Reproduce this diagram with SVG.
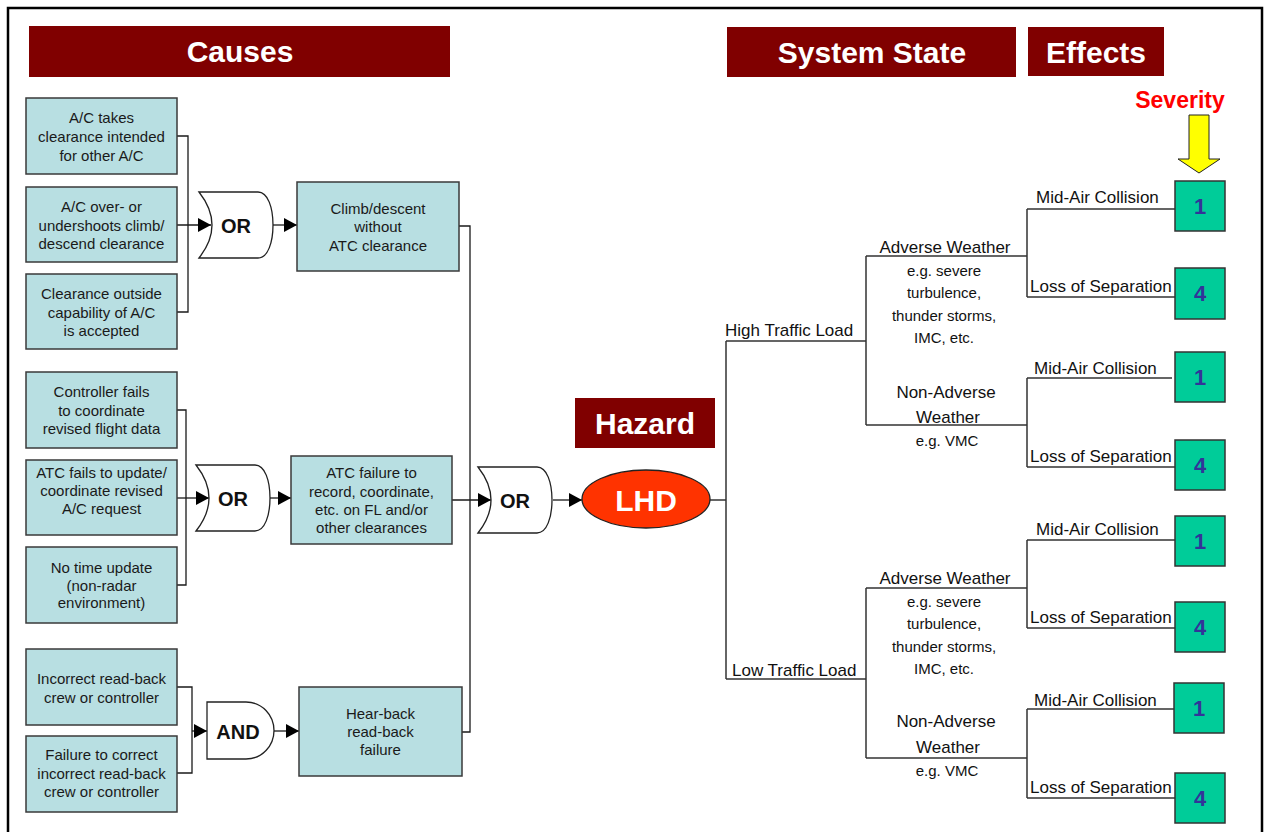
<svg xmlns="http://www.w3.org/2000/svg" width="1265" height="832" viewBox="0 0 1265 832">
<style>
text{font-family:"Liberation Sans",Arial,Helvetica,sans-serif}
.frame{fill:#fff;stroke:#000;stroke-width:2.5}
.title{fill:#800000}
.tt{font-size:30px;font-weight:bold;fill:#fff;text-anchor:middle}
.box{fill:#B8DFE2;stroke:#3a3a3a;stroke-width:1.5}
.bt{font-size:15px;fill:#1a1a1a;text-anchor:middle}
.gate{fill:#fff;stroke:#222;stroke-width:1.3}
.gt{font-size:20px;font-weight:bold;fill:#111;text-anchor:middle}
.ln{stroke:#1a1a1a;stroke-width:1.3;fill:none}
.tl{stroke:#333;stroke-width:1.5;fill:none}
.lbl{font-size:17px;fill:#111}
.eg{font-size:15px;fill:#111;text-anchor:middle}
.sev{fill:#00CC99;stroke:#333;stroke-width:1.5}
.sn{font-size:22px;font-weight:bold;fill:#333399;text-anchor:middle}
</style>
<defs>
<marker id="ah" markerUnits="userSpaceOnUse" markerWidth="14" markerHeight="14" refX="13" refY="7" orient="auto">
<path d="M0,0 L13,7 L0,14 Z" fill="#000"/>
</marker>
<path id="orgate" d="M0,0 L59,0 C69,0 74,16 74,33 C74,50 69,66 59,66 L0,66 Q26,33 0,0 Z"/>
</defs>
<rect class="frame" x="8" y="8" width="1254" height="840"/>

<g id="title-causes"><rect class="title" x="29" y="26" width="421" height="51"/><text class="tt" x="240" y="62">Causes</text></g>
<g id="title-system-state"><rect class="title" x="727" y="27" width="289" height="50"/><text class="tt" x="872" y="63">System State</text></g>
<g id="title-effects"><rect class="title" x="1028" y="27" width="136" height="49"/><text class="tt" x="1096" y="63">Effects</text></g>
<g id="title-hazard"><rect class="title" x="575" y="398" width="140" height="50"/><text class="tt" x="645" y="434">Hazard</text></g>

<g id="connectors">
<path class="ln" d="M177,136 H188 V312 H177"/>
<path class="ln" d="M177,225 H211" marker-end="url(#ah)"/>
<path class="ln" d="M273,225 H297" marker-end="url(#ah)"/>
<path class="ln" d="M459,226 H470 V732 H462"/>
<path class="ln" d="M177,410 H186 V585 H177"/>
<path class="ln" d="M177,498 H209" marker-end="url(#ah)"/>
<path class="ln" d="M270,498 H291" marker-end="url(#ah)"/>
<path class="ln" d="M452,500 H491" marker-end="url(#ah)"/>
<path class="ln" d="M553,500 H582" marker-end="url(#ah)"/>
<path class="ln" d="M177,687 H192 V773 H177"/>
<path class="ln" d="M192,731 H207" marker-end="url(#ah)"/>
<path class="ln" d="M274,731 H299" marker-end="url(#ah)"/>
<path class="tl" d="M710,500 H726"/>
<path class="tl" d="M726,341 V679"/>
<path class="tl" d="M726,341 H866 M866,256 V425 M866,256 H1027 M866,425 H1027"/>
<path class="tl" d="M1027,209 V297 M1027,209 H1175 M1027,297 H1175"/>
<path class="tl" d="M1027,378 V467 M1027,378 H1172 M1027,467 H1175"/>
<path class="tl" d="M726,679 H866 M866,588 V758 M866,588 H1027 M866,758 H1027"/>
<path class="tl" d="M1027,540 V628 M1027,540 H1175 M1027,628 H1175"/>
<path class="tl" d="M1027,709 V798 M1027,709 H1174 M1027,798 H1175"/>
</g>

<g id="cause-1"><rect class="box" x="26" y="98" width="151" height="76"/><text class="bt" x="101.5" y="123">A/C takes</text><text class="bt" x="101.5" y="142">clearance intended</text><text class="bt" x="101.5" y="161">for other A/C</text></g>
<g id="cause-2"><rect class="box" x="26" y="187" width="151" height="75"/><text class="bt" x="101.5" y="212">A/C over- or</text><text class="bt" x="101.5" y="231">undershoots climb/</text><text class="bt" x="101.5" y="249">descend clearance</text></g>
<g id="cause-3"><rect class="box" x="26" y="274" width="151" height="75"/><text class="bt" x="101.5" y="299">Clearance outside</text><text class="bt" x="101.5" y="318">capability of A/C</text><text class="bt" x="101.5" y="336">is accepted</text></g>
<g id="gate-or-1"><use href="#orgate" class="gate" x="199" y="192"/><text class="gt" x="236" y="233">OR</text></g>
<g id="climb-descent"><rect class="box" x="297" y="182" width="162" height="89"/><text class="bt" x="378" y="214">Climb/descent</text><text class="bt" x="378" y="232">without</text><text class="bt" x="378" y="251">ATC clearance</text></g>

<g id="cause-4"><rect class="box" x="26" y="372" width="151" height="76"/><text class="bt" x="101.5" y="397">Controller fails</text><text class="bt" x="101.5" y="416">to coordinate</text><text class="bt" x="101.5" y="434">revised flight data</text></g>
<g id="cause-5"><rect class="box" x="26" y="460" width="151" height="75"/><text class="bt" x="101.5" y="478">ATC fails to update/</text><text class="bt" x="101.5" y="496">coordinate revised</text><text class="bt" x="101.5" y="514">A/C request</text></g>
<g id="cause-6"><rect class="box" x="26" y="547" width="151" height="76"/><text class="bt" x="101.5" y="573">No time update</text><text class="bt" x="101.5" y="591">(non-radar</text><text class="bt" x="101.5" y="608">environment)</text></g>
<g id="gate-or-2"><use href="#orgate" class="gate" x="196" y="465"/><text class="gt" x="233" y="506">OR</text></g>
<g id="atc-failure"><rect class="box" x="291" y="456" width="161" height="88"/><text class="bt" x="371.5" y="478">ATC failure to</text><text class="bt" x="371.5" y="497">record, coordinate,</text><text class="bt" x="371.5" y="515">etc. on FL and/or</text><text class="bt" x="371.5" y="533">other clearances</text></g>

<g id="cause-7"><rect class="box" x="26" y="649" width="151" height="76"/><text class="bt" x="101.5" y="684">Incorrect read-back</text><text class="bt" x="101.5" y="703">crew or controller</text></g>
<g id="cause-8"><rect class="box" x="26" y="736" width="151" height="76"/><text class="bt" x="101.5" y="760">Failure to correct</text><text class="bt" x="101.5" y="779">incorrect read-back</text><text class="bt" x="101.5" y="797">crew or controller</text></g>
<g id="gate-and"><path class="gate" d="M207,702 H246 C262,702 274,715 274,730.5 C274,746 262,759 246,759 H207 Z"/><text class="gt" x="238" y="739">AND</text></g>
<g id="hear-back"><rect class="box" x="299" y="687" width="163" height="89"/><text class="bt" x="380.5" y="719">Hear-back</text><text class="bt" x="380.5" y="737">read-back</text><text class="bt" x="380.5" y="755">failure</text></g>

<g id="gate-or-3"><use href="#orgate" class="gate" x="478" y="467"/><text class="gt" x="515" y="508">OR</text></g>
<g id="lhd"><ellipse cx="646" cy="499" rx="64" ry="29" fill="#FF3300" stroke="#222" stroke-width="1.3"/><text class="tt" x="646" y="511">LHD</text></g>

<g id="severity"><text x="1180" y="108" font-size="23" font-weight="bold" fill="#FF0000" text-anchor="middle">Severity</text><polygon points="1189,115 1209,115 1209,159 1220,159 1199,173 1178,159 1189,159" fill="#FFFF00" stroke="#222" stroke-width="1"/></g>

<g id="state-high"><text class="lbl" x="725" y="336">High Traffic Load</text></g>
<g id="state-high-adverse"><text class="lbl" x="945" y="253" text-anchor="middle">Adverse Weather</text><text class="eg" x="944" y="276">e.g. severe</text><text class="eg" x="944" y="298">turbulence,</text><text class="eg" x="944" y="321">thunder storms,</text><text class="eg" x="944" y="343">IMC, etc.</text></g>
<g id="state-high-nonadverse"><text class="lbl" x="946" y="398" text-anchor="middle">Non-Adverse</text><text class="lbl" x="948" y="423" text-anchor="middle">Weather</text><text class="eg" x="947" y="446">e.g. VMC</text></g>
<g id="state-low"><text class="lbl" x="732" y="676">Low Traffic Load</text></g>
<g id="state-low-adverse"><text class="lbl" x="945" y="584" text-anchor="middle">Adverse Weather</text><text class="eg" x="944" y="607">e.g. severe</text><text class="eg" x="944" y="629">turbulence,</text><text class="eg" x="944" y="652">thunder storms,</text><text class="eg" x="944" y="674">IMC, etc.</text></g>
<g id="state-low-nonadverse"><text class="lbl" x="946" y="727" text-anchor="middle">Non-Adverse</text><text class="lbl" x="948" y="753" text-anchor="middle">Weather</text><text class="eg" x="947" y="776">e.g. VMC</text></g>

<g id="effect-1"><text class="lbl" x="1036" y="203">Mid-Air Collision</text><rect class="sev" x="1175" y="181" width="50" height="50"/><text class="sn" x="1200" y="214">1</text></g>
<g id="effect-2"><text class="lbl" x="1030" y="292">Loss of Separation</text><rect class="sev" x="1175" y="268" width="50" height="51"/><text class="sn" x="1200" y="301">4</text></g>
<g id="effect-3"><text class="lbl" x="1034" y="374">Mid-Air Collision</text><rect class="sev" x="1175" y="352" width="50" height="50"/><text class="sn" x="1200" y="385">1</text></g>
<g id="effect-4"><text class="lbl" x="1030" y="462">Loss of Separation</text><rect class="sev" x="1175" y="440" width="50" height="50"/><text class="sn" x="1200" y="473">4</text></g>
<g id="effect-5"><text class="lbl" x="1036" y="535">Mid-Air Collision</text><rect class="sev" x="1175" y="516" width="50" height="50"/><text class="sn" x="1200" y="549">1</text></g>
<g id="effect-6"><text class="lbl" x="1030" y="623">Loss of Separation</text><rect class="sev" x="1175" y="602" width="50" height="50"/><text class="sn" x="1200" y="635">4</text></g>
<g id="effect-7"><text class="lbl" x="1034" y="706">Mid-Air Collision</text><rect class="sev" x="1174" y="683" width="50" height="50"/><text class="sn" x="1199" y="716">1</text></g>
<g id="effect-8"><text class="lbl" x="1030" y="793">Loss of Separation</text><rect class="sev" x="1175" y="773" width="50" height="50"/><text class="sn" x="1200" y="806">4</text></g>
</svg>
